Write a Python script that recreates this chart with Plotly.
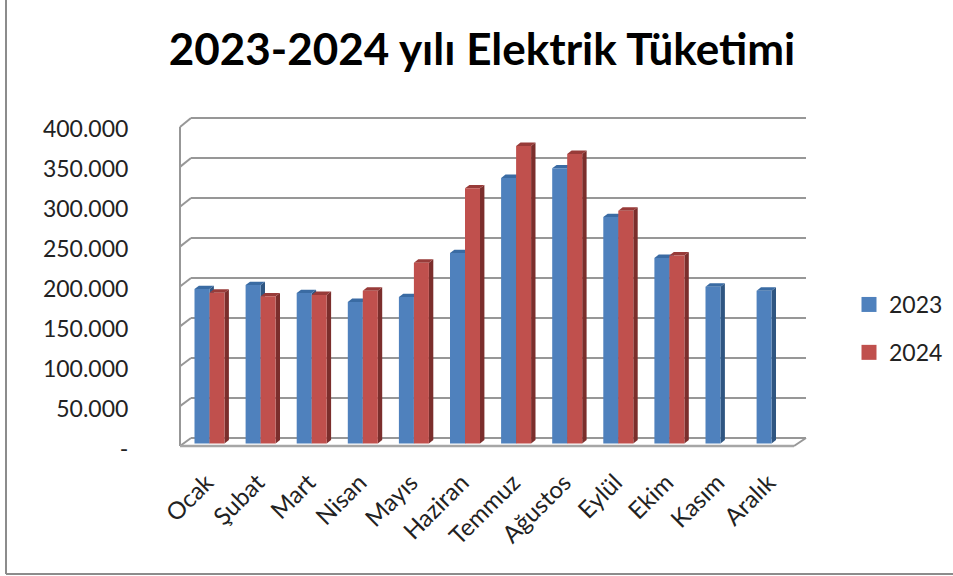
import plotly.graph_objects as go

months = ["Ocak", "Şubat", "Mart", "Nisan", "Mayıs", "Haziran", "Temmuz", "Ağustos", "Eylül", "Ekim", "Kasım", "Aralık"]
values_2023 = [193000, 198000, 188000, 177000, 183000, 238000, 332000, 344000, 283000, 232000, 196000, 191000]
values_2024 = [188500, 184000, 185600, 191000, 226000, 319000, 372000, 362000, 291000, 235000, None, None]
tick_values = [0, 50000, 100000, 150000, 200000, 250000, 300000, 350000, 400000]
tick_labels = ["-", "50.000", "100.000", "150.000", "200.000", "250.000", "300.000", "350.000", "400.000"]
series_names = ["2023", "2024"]

W, H = 953, 576
PX_PER_CAT = 51.1
PX_PER_VAL = 0.0008
X0_PX, Y0_PX = 209.5, 443.5
L, R, T, B = 170, 815, 110, 450
BAR_TOTAL = 30 / 51.1

def ux(px):
    return (px - X0_PX) / PX_PER_CAT

def uy(py):
    return (Y0_PX - py) / PX_PER_VAL

shapes = []
GRID = "#979797"

def seg(x0, y0, x1, y1, color=GRID, w=2):
    shapes.append(dict(type="line", xref="x", yref="y", layer="below",
                       x0=ux(x0), y0=uy(y0), x1=ux(x1), y1=uy(y1),
                       line=dict(color=color, width=w)))

for v in tick_values:
    yb = 438 - v * PX_PER_VAL
    yf = 446 - v * 0.7975e-3
    seg(191, yb, 806, yb)
    seg(180, yf, 191, yb)
seg(180, 127, 180, 446)
seg(180, 446, 794, 446, "#a6a6a6", 2.5)
seg(794, 446, 806, 438)

DX = 4.4 / PX_PER_CAT
DY = 3.4 / PX_PER_VAL
BASE = 0

def poly(pts, color):
    path = "M" + "L".join(f"{a},{b}" for a, b in pts) + "Z"
    shapes.append(dict(type="path", xref="x", yref="y", layer="below", path=path,
                       fillcolor=color, line=dict(width=0)))

def depth(values, offset, side, top):
    w = BAR_TOTAL / 2
    for i, v in enumerate(values):
        if v is None:
            continue
        xl = i + offset * w - w
        xr = xl + w
        poly([(xr, BASE), (xr + DX, BASE + DY), (xr + DX, v + DY), (xr, v)], side)
        poly([(xl, v), (xl + DX, v + DY), (xr + DX, v + DY), (xr, v)], top)

depth(values_2023, 0, "#2f5682", "#3a6ba3")
depth(values_2024, 1, "#7b2e2c", "#983b39")

# frame of the chart area
fx = (6 - L) / (R - L)
fy = (B - 574) / (B - T)
shapes.append(dict(type="line", xref="paper", yref="paper", layer="below",
                   x0=fx, x1=fx, y0=fy, y1=B / (B - T),
                   line=dict(color="#8c8c8c", width=2)))
shapes.append(dict(type="line", xref="paper", yref="paper", layer="below",
                   x0=fx, x1=(W - L) / (R - L), y0=fy, y1=fy,
                   line=dict(color="#8c8c8c", width=2)))

positions = list(range(len(months)))
FONT = "Lato"
fig = go.Figure()
colors = ["#4f81bd", "#c0504d"]
for name, vals, c in zip(series_names, [values_2023, values_2024], colors):
    fig.add_bar(x=positions, y=vals, name=name, marker=dict(color=c, line=dict(width=0)),
                legendgroup=name, showlegend=False)
for name, c in zip(series_names, colors):
    fig.add_scatter(x=[None], y=[None], mode="markers", name=name, legendgroup=name,
                    marker=dict(symbol="square", size=15, color=c))

fig.update_layout(
    width=W, height=H, autosize=False,
    margin=dict(l=L, r=W - R, t=T, b=H - B, pad=0, autoexpand=False),
    paper_bgcolor="white", plot_bgcolor="white",
    barmode="group", bargap=1 - BAR_TOTAL, bargroupgap=0,
    shapes=shapes,
    title=dict(text="<b>2023-2024 yılı Elektrik Tüketimi</b>", x=482 / W, xref="container", xanchor="center",
               y=1 - 50 / H, yref="container", yanchor="middle",
               font=dict(family=FONT, size=44, color="#000000")),
    xaxis=dict(range=[ux(L), ux(R)], tickmode="array", tickvals=positions, ticktext=months,
               tickangle=-45, showgrid=False, zeroline=False, showline=False,
               ticks="outside", ticklen=8, tickcolor="rgba(0,0,0,0)",
               ticklabelshift=-3,
               tickfont=dict(family=FONT, size=24, color="#222222")),
    yaxis=dict(range=[uy(B), uy(T)], tickmode="array", tickvals=tick_values, ticktext=tick_labels,
               showgrid=False, zeroline=False, showline=False,
               ticks="outside", ticklen=36, tickcolor="rgba(0,0,0,0)",
               ticklabelshift=5,
               tickfont=dict(family=FONT, size=23, color="#222222")),
    legend=dict(x=(849 - L) / (R - L), y=(B - 283) / (B - T), xanchor="left", yanchor="top",
                font=dict(family=FONT, size=23, color="#222222"), tracegroupgap=15,
                bgcolor="rgba(0,0,0,0)"),
)

fig.write_html("out.html", config=dict(displayModeBar=False),
               post_script="document.body.style.margin='0';")
